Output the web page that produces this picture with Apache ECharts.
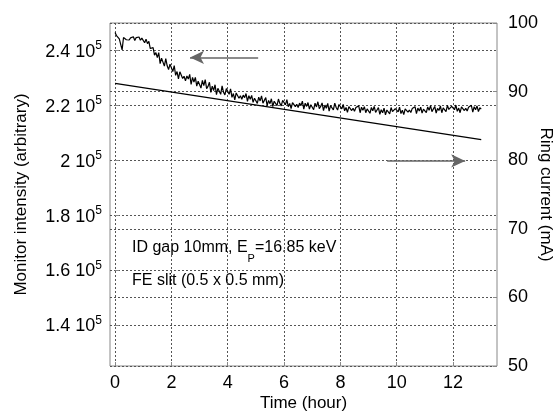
<!DOCTYPE html>
<html>
<head>
<meta charset="utf-8">
<script src="https://cdn.jsdelivr.net/npm/echarts@6/dist/echarts.min.js"></script>
<style>
  html, body { margin: 0; padding: 0; background: #fff; }
  #chart { width: 560px; height: 414px; }
</style>
</head>
<body>
<div id="chart"></div>
<script>
// 时间轴刻度
var timeTicks = [0, 2, 4, 6, 8, 10, 12];
var monitorTicks = [1.4, 1.6, 1.8, 2.0, 2.2, 2.4]; // x 10^5

// 监测强度 (单位 10^5), 每 0.05 小时一个点, 从 0 到 13 小时
var monitorStart = 0;
var monitorStep = 0.05;
var monitorValues = [
    2.465, 2.454, 2.460, 2.442, 2.446, 2.402, 2.447, 2.449, 2.439, 2.443,
    2.438, 2.446, 2.442, 2.450, 2.436, 2.447, 2.441, 2.449, 2.437, 2.445,
    2.447, 2.428, 2.441, 2.425, 2.433, 2.407, 2.406, 2.410, 2.383, 2.392,
    2.374, 2.392, 2.352, 2.372, 2.373, 2.343, 2.370, 2.344, 2.330, 2.350,
    2.344, 2.323, 2.345, 2.309, 2.323, 2.296, 2.322, 2.326, 2.298, 2.306,
    2.289, 2.307, 2.296, 2.313, 2.276, 2.302, 2.285, 2.302, 2.270, 2.288,
    2.291, 2.263, 2.291, 2.272, 2.294, 2.261, 2.269, 2.284, 2.247, 2.270,
    2.254, 2.275, 2.239, 2.262, 2.267, 2.240, 2.271, 2.248, 2.238, 2.261,
    2.257, 2.240, 2.260, 2.229, 2.243, 2.220, 2.245, 2.250, 2.226, 2.235,
    2.222, 2.237, 2.228, 2.243, 2.214, 2.235, 2.222, 2.236, 2.211, 2.226,
    2.229, 2.207, 2.230, 2.216, 2.234, 2.208, 2.215, 2.228, 2.199, 2.218,
    2.206, 2.224, 2.195, 2.215, 2.219, 2.199, 2.223, 2.207, 2.198, 2.218,
    2.217, 2.202, 2.221, 2.195, 2.207, 2.188, 2.210, 2.216, 2.195, 2.204,
    2.192, 2.208, 2.199, 2.215, 2.186, 2.208, 2.196, 2.210, 2.186, 2.202,
    2.205, 2.184, 2.208, 2.194, 2.213, 2.188, 2.196, 2.209, 2.181, 2.201,
    2.189, 2.207, 2.179, 2.199, 2.203, 2.183, 2.208, 2.192, 2.183, 2.203,
    2.199, 2.187, 2.203, 2.180, 2.192, 2.174, 2.195, 2.200, 2.181, 2.189,
    2.178, 2.192, 2.186, 2.198, 2.173, 2.193, 2.182, 2.195, 2.173, 2.187,
    2.189, 2.171, 2.192, 2.180, 2.196, 2.174, 2.181, 2.192, 2.167, 2.184,
    2.173, 2.190, 2.165, 2.183, 2.187, 2.169, 2.192, 2.177, 2.171, 2.188,
    2.188, 2.176, 2.193, 2.170, 2.182, 2.166, 2.187, 2.192, 2.175, 2.183,
    2.174, 2.188, 2.182, 2.195, 2.170, 2.190, 2.179, 2.193, 2.172, 2.186,
    2.191, 2.173, 2.194, 2.182, 2.199, 2.177, 2.184, 2.196, 2.172, 2.189,
    2.181, 2.198, 2.173, 2.191, 2.195, 2.177, 2.200, 2.185, 2.179, 2.196,
    2.196, 2.184, 2.201, 2.178, 2.190, 2.173, 2.194, 2.199, 2.181, 2.189,
    2.179, 2.193, 2.187, 2.200, 2.175, 2.195, 2.184, 2.198, 2.177, 2.191,
    2.186
];

// 环电流 (mA)
var currentTimes = [0, 13];
var currentValues = [91.2, 83.0];

// 箭头 (数据坐标)
var leftArrow = { from: [5.08, 2.3745], to: [2.66, 2.3745] };
var rightArrow = { from: [9.66, 79.9], to: [12.43, 79.9] };

var FONT = '"Liberation Sans", Arial, sans-serif';

var monitorData = [];
for (var i = 0; i < monitorValues.length; i++) {
    monitorData.push([monitorStart + i * monitorStep, monitorValues[i]]);
}
var currentData = [];
for (var j = 0; j < currentTimes.length; j++) {
    currentData.push([currentTimes[j], currentValues[j]]);
}

var gridLine = { show: true, lineStyle: { color: '#555', width: 1, type: [2, 2] } };

// 箭头
function arrowMark(a) {
    return {
        silent: true,
        symbol: ['none', 'arrow'],
        symbolSize: [10, 14],
        label: { show: false },
        emphasis: { disabled: true },
        lineStyle: { color: '#666', width: 1.5, type: 'solid' },
        data: [[{ coord: a.from }, { coord: a.to }]]
    };
}

var chart = echarts.init(document.getElementById('chart'));

var option = {
    backgroundColor: '#fff',
    animation: false,
    textStyle: { fontFamily: FONT, color: '#000' },
    grid: {
        left: 110, right: 63, top: 23, bottom: 48,
        outerBoundsMode: 'none',
        containLabel: false,
        show: true, borderColor: '#888', borderWidth: 1
    },
    xAxis: {
        type: 'value',
        min: -0.18,
        max: 13.56,
        name: 'Time (hour)',
        nameLocation: 'middle',
        nameGap: 29,
        nameMoveOverlap: false,
        nameTextStyle: { fontSize: 17, color: '#000', fontFamily: FONT },
        axisLine: { show: false },
        axisTick: { show: true, inside: true, length: 4, lineStyle: { color: '#888' }, customValues: timeTicks },
        axisLabel: { fontSize: 18, color: '#000', margin: 8, fontFamily: FONT, customValues: timeTicks },
        splitLine: gridLine
    },
    yAxis: [
        {
            type: 'value',
            min: 1.25,
            max: 2.5,
            name: 'Monitor intensity (arbitrary)',
            nameLocation: 'middle',
            nameRotate: 90,
            nameGap: 80,
            nameMoveOverlap: false,
            nameTextStyle: { fontSize: 17, color: '#000', fontFamily: FONT },
            axisLine: { show: false },
            axisTick: { show: true, inside: true, length: 4, lineStyle: { color: '#888' }, customValues: monitorTicks },
            axisLabel: {
                margin: 8,
                customValues: monitorTicks,
                formatter: function (v) {
                    var s = Math.abs(v - 2) < 1e-9 ? '2' : v.toFixed(1);
                    return '{n|' + s + ' 10}{s|5}';
                },
                rich: {
                    n: { fontSize: 18, color: '#000', fontFamily: FONT, lineHeight: 21, verticalAlign: 'bottom' },
                    s: { fontSize: 12, color: '#000', fontFamily: FONT, lineHeight: 12, verticalAlign: 'top' }
                }
            },
            splitLine: gridLine
        },
        {
            type: 'value',
            position: 'right',
            min: 50,
            max: 100,
            interval: 10,
            name: 'Ring current (mA)',
            nameLocation: 'middle',
            nameRotate: -90,
            nameGap: 40,
            nameMoveOverlap: false,
            nameTextStyle: { fontSize: 17, color: '#000', fontFamily: FONT },
            axisLine: { show: false },
            axisTick: { show: true, inside: true, length: 4, lineStyle: { color: '#888' } },
            axisLabel: { fontSize: 18, color: '#000', margin: 11, fontFamily: FONT },
            splitLine: gridLine
        }
    ],
    graphic: [
        {
            type: 'text',
            left: 132,
            top: 240,
            style: {
                text: '{m|ID gap 10mm, E}{p|P}{m|=16.85 keV}',
                rich: {
                    m: { fontSize: 16, fill: '#000', fontFamily: FONT, lineHeight: 20, verticalAlign: 'top' },
                    p: { fontSize: 11, fill: '#000', fontFamily: FONT, lineHeight: 11, padding: [13, 0, 0, 0], verticalAlign: 'top' }
                }
            }
        },
        {
            type: 'text',
            left: 132,
            top: 273,
            style: {
                text: 'FE slit (0.5 x 0.5 mm)',
                fontSize: 16,
                fontFamily: FONT,
                fill: '#000'
            }
        }
    ],
    series: [
        {
            name: 'Monitor',
            type: 'line',
            yAxisIndex: 0,
            data: monitorData,
            symbol: 'none',
            lineStyle: { color: '#000', width: 1.2 },
            silent: true,
            markLine: arrowMark(leftArrow)
        },
        {
            name: 'Ring current',
            type: 'line',
            yAxisIndex: 1,
            data: currentData,
            symbol: 'none',
            lineStyle: { color: '#000', width: 1.3 },
            silent: true,
            markLine: arrowMark(rightArrow)
        }
    ]
};

chart.setOption(option);
</script>
</body>
</html>
